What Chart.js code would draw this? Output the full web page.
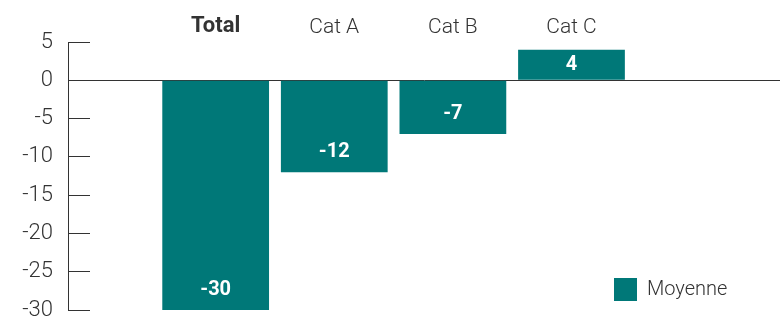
<!DOCTYPE html>
<html>
<head>
<meta charset="utf-8">
<script src="https://cdn.jsdelivr.net/npm/chart.js@4"></script>
<style>
  body { margin: 0; background: #fff; }
  #wrap { width: 780px; height: 320px; position: relative; }
</style>
</head>
<body>
<div id="wrap"><canvas id="myChart"></canvas></div>
<script>
// data
const categories = ['Total', 'Cat A', 'Cat B', 'Cat C'];
const moyenne = [-30, -12, -7, 4];
const yTicks = [5, 0, -5, -10, -15, -20, -25, -30];
const seriesName = 'Moyenne';

const teal = '#007878';
const ink = '#333333';
const fontFamily = 'Roboto, "Liberation Sans", sans-serif';

// values inside the bars
const barLabels = {
  id: 'barLabels',
  afterDatasetsDraw(chart) {
    const ctx = chart.ctx;
    const meta = chart.getDatasetMeta(0);
    ctx.save();
    ctx.fillStyle = '#fff';
    ctx.font = 'bold 20px ' + fontFamily;
    ctx.textAlign = 'center';
    ctx.textBaseline = 'middle';
    meta.data.forEach(function (bar, i) {
      const h = Math.abs(bar.y - bar.base);
      const off = Math.min(20, h / 2);
      const y = bar.y > bar.base ? bar.y - off : bar.y + off;
      ctx.fillText(String(moyenne[i]), bar.x, y);
    });
    ctx.restore();
  }
};

// legend inside the plot, bottom right
const boxLegend = {
  id: 'boxLegend',
  afterDraw(chart) {
    const ctx = chart.ctx;
    const area = chart.chartArea;
    const x = area.right - 166;
    const y = area.bottom - 32;
    ctx.save();
    ctx.fillStyle = teal;
    ctx.fillRect(x, y, 23, 23);
    ctx.fillStyle = ink;
    ctx.font = '300 20px ' + fontFamily;
    ctx.textBaseline = 'middle';
    ctx.fillText(chart.data.datasets[0].label, x + 33, y + 12);
    ctx.restore();
  }
};

const ctx = document.getElementById('myChart');
new Chart(ctx, {
  type: 'bar',
  data: {
    datasets: [{
      label: seriesName,
      data: moyenne.map(function (v, i) { return { x: i, y: v }; }),
      backgroundColor: teal,
      borderWidth: 0,
      categoryPercentage: 1,
      barPercentage: 0.9
    }]
  },
  options: {
    responsive: true,
    maintainAspectRatio: false,
    animation: false,
    layout: { padding: 0 },
    plugins: {
      legend: { display: false },
      tooltip: { enabled: false }
    },
    scales: {
      x: {
        type: 'linear',
        position: 'top',
        offset: false,
        min: -1.245,
        max: 4.758,
        grid: { display: false, offset: false },
        border: { display: false },
        afterBuildTicks: function (scale) {
          scale.ticks = categories.map(function (c, i) { return { value: i }; });
        },
        afterFit: function (scale) {
          scale.height = 42;
          scale.paddingLeft = 0;
          scale.paddingRight = 0;
        },
        ticks: {
          padding: -6,
          color: ink,
          font: function (c) {
            const bold = c.tick && c.tick.value === 0;
            return {
              family: fontFamily,
              size: bold ? 22 : 21,
              weight: bold ? 'bold' : '300'
            };
          },
          callback: function (v) { return categories[v]; }
        }
      },
      y: {
        min: -30,
        max: 5,
        afterBuildTicks: function (scale) {
          scale.ticks = yTicks.map(function (v) { return { value: v }; });
        },
        afterFit: function (scale) {
          scale.width = 68;
          scale.paddingTop = 0;
          scale.paddingBottom = 10;
        },
        border: { display: true, color: ink, width: 1 },
        grid: {
          drawOnChartArea: true,
          drawTicks: true,
          tickLength: -22,
          tickColor: ink,
          color: function (c) {
            return c.tick && c.tick.value === 0 ? ink : 'rgba(0,0,0,0)';
          },
          lineWidth: 1
        },
        ticks: {
          padding: 37,
          color: ink,
          font: { family: fontFamily, size: 22, weight: '300', lineHeight: 0.9 }
        }
      }
    }
  },
  plugins: [barLabels, boxLegend]
});
</script>
</body>
</html>
